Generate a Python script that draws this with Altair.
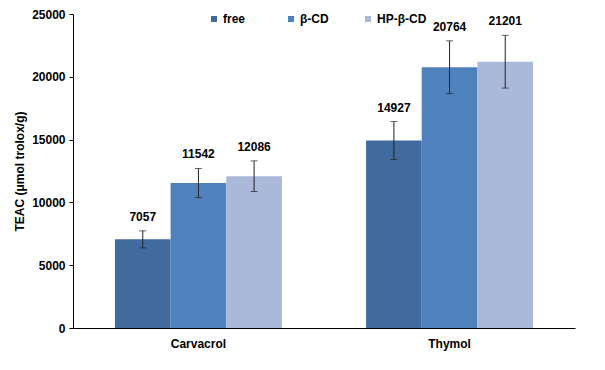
import altair as alt
import pandas as pd

compounds = ["Carvacrol", "Thymol"]
forms = ["free", "β-CD", "HP-β-CD"]
carvacrol_vals = [7057, 11542, 12086]
thymol_vals = [14927, 20764, 21201]
carvacrol_err = [680, 1160, 1220]
thymol_err = [1510, 2100, 2100]
colors = ["#416A9E", "#4F81BD", "#AAB9D9"]
y_ticks = [0, 5000, 10000, 15000, 20000, 25000]

rows = []
for comp, vals, errs in [("Carvacrol", carvacrol_vals, carvacrol_err),
                         ("Thymol", thymol_vals, thymol_err)]:
    for f, v, e in zip(forms, vals, errs):
        rows.append({"compound": comp, "form": f, "value": v, "lo": v - e, "hi": v + e})
df = pd.DataFrame(rows)

FONT = "Liberation Sans"

x = alt.X("compound:N", sort=compounds,
          scale=alt.Scale(paddingInner=0.335, paddingOuter=0.167),
          axis=alt.Axis(title=None, labelAngle=0, ticks=False, domainColor="black",
                        labelPadding=10, labelFontSize=12, labelFontWeight="bold",
                        labelColor="black", labelFont=FONT))
xo = alt.XOffset("form:N", sort=forms, scale=alt.Scale(paddingInner=0, paddingOuter=0))

y = alt.Y("value:Q", scale=alt.Scale(domain=[0, 25000], nice=False),
          axis=alt.Axis(title="TEAC (μmol trolox/g)", values=y_ticks, format="d", grid=False,
                        domainColor="black", tickColor="black", tickSize=4, labelPadding=4,
                        labelFontSize=12, labelFontWeight="bold", labelColor="black",
                        labelFont=FONT, labelFlush=False, titleFont=FONT, titleFontSize=12,
                        titleFontWeight="bold", titleColor="black", titlePadding=5))

base = alt.Chart(df)

bars = base.mark_bar().encode(
    x=x, xOffset=xo, y=y,
    color=alt.Color("form:N", sort=forms,
                    scale=alt.Scale(domain=forms, range=colors),
                    legend=alt.Legend(title=None, orient="none", legendX=135, legendY=-1,
                                      direction="horizontal", columns=3, gridAlign="all",
                                      columnPadding=12, symbolType="square", symbolSize=36,
                                      symbolStrokeWidth=0, labelFontSize=12,
                                      labelFontWeight="bold", labelFont=FONT,
                                      labelColor="black", labelOffset=3)),
)

rules = base.mark_rule(color="#222222", strokeWidth=1).encode(
    x=x, xOffset=xo, y=alt.Y("lo:Q"), y2="hi:Q")
cap_hi = base.mark_tick(color="#222222", size=7, thickness=1, orient="horizontal").encode(
    x=x, xOffset=xo, y=alt.Y("hi:Q"))
cap_lo = base.mark_tick(color="#222222", size=7, thickness=1, orient="horizontal").encode(
    x=x, xOffset=xo, y=alt.Y("lo:Q"))
labels = base.mark_text(dy=-7, baseline="bottom", fontSize=12, fontWeight="bold",
                        font=FONT, color="black").encode(
    x=x, xOffset=xo, y=alt.Y("hi:Q"), text=alt.Text("value:Q", format="d"))

chart = alt.layer(bars, rules, cap_hi, cap_lo, labels).properties(
    width=502, height=314,
    autosize=alt.AutoSizeParams(type="none"),
    padding={"left": 65, "top": 6, "right": 20, "bottom": 30},
).configure_view(stroke=None)

chart.save("out.html", embed_options={"renderer": "svg", "actions": False})
